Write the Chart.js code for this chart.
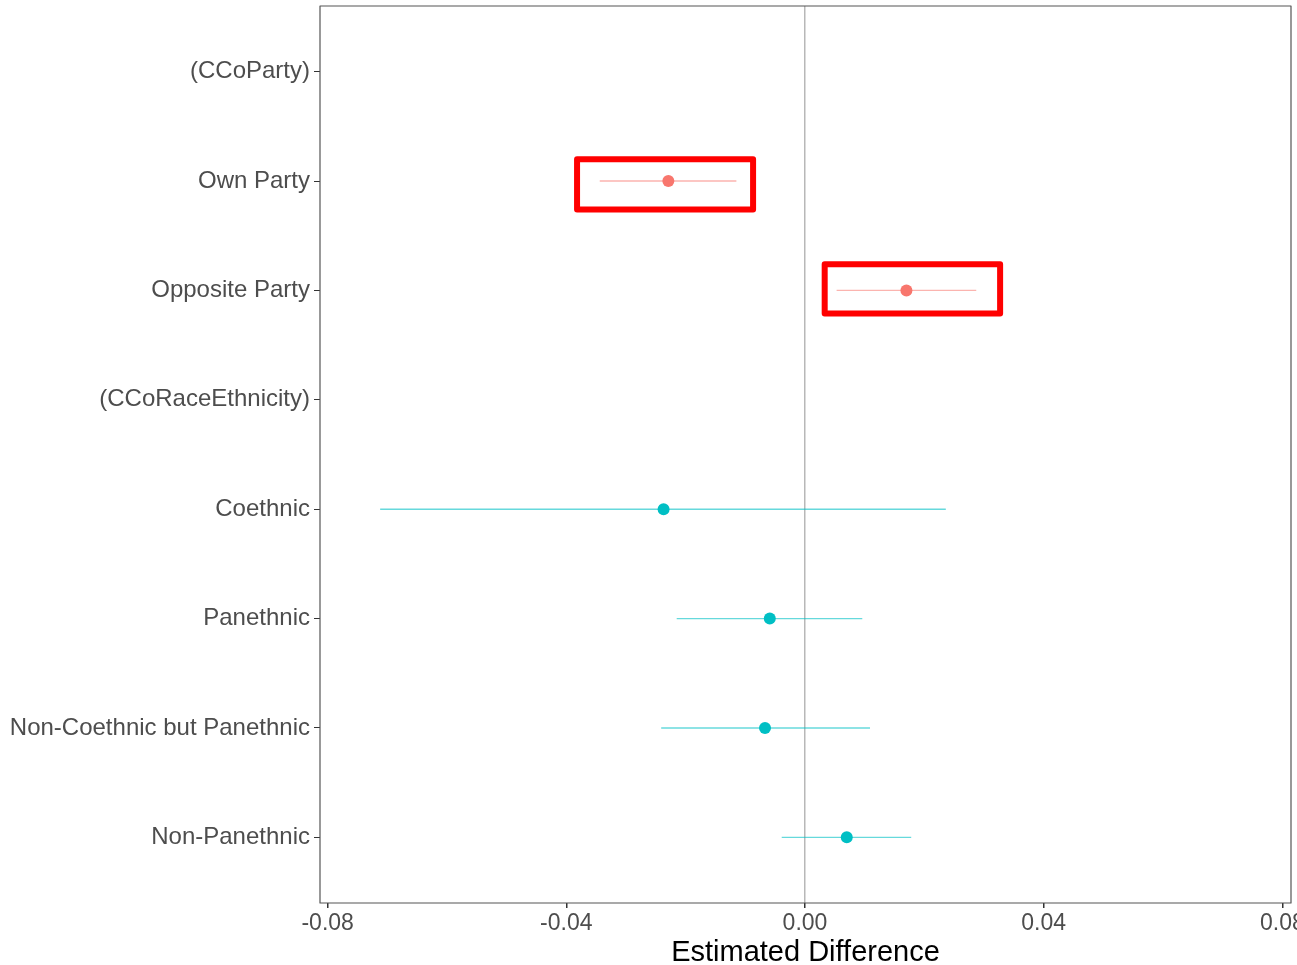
<!DOCTYPE html>
<html>
<head>
<meta charset="utf-8">
<script src="https://cdn.jsdelivr.net/npm/chart.js@4.4.0/dist/chart.umd.min.js"></script>
<style>
  html, body { margin: 0; padding: 0; background: #fff; }
  #wrap { width: 1297px; height: 965px; }
</style>
</head>
<body>
<div id="wrap"><canvas id="myChart" width="1297" height="965"></canvas></div>
<script>
// rows from top to bottom
var categories = ['(CCoParty)', 'Own Party', 'Opposite Party', '(CCoRaceEthnicity)',
  'Coethnic', 'Panethnic', 'Non-Coethnic but Panethnic', 'Non-Panethnic'];
var groups = ['party', 'party', 'party', 'race', 'race', 'race', 'race', 'race'];
var estimates = [null, -0.0229, 0.0170, null, -0.0237, -0.0059, -0.0067, 0.0070];
var lower     = [null, -0.0344, 0.0053, null, -0.0712, -0.0215, -0.0241, -0.0039];
var upper     = [null, -0.0115, 0.0287, null, 0.0236, 0.0096, 0.0109, 0.0178];
var xTicks = [-0.08, -0.04, 0, 0.04, 0.08];

// red highlight boxes (data units)
var boxXLo = [-0.0382, 0.0033];
var boxXHi = [-0.0087, 0.0327];
var boxYLo = [0.80, 1.76];
var boxYHi = [1.26, 2.21];

var pointCol = { party: '#F8766D', race: '#00BFC4' };
var lineCol = { party: 'rgba(248,118,109,0.55)', race: 'rgba(0,191,196,0.6)' };

var fontFam = '"Liberation Sans", Arial, Helvetica, sans-serif';

var datasets = [];
var pts = [], ptCols = [];
for (var i = 0; i < categories.length; i++) {
  if (estimates[i] === null) continue;
  pts.push({ x: estimates[i], y: i });
  ptCols.push(pointCol[groups[i]]);
  datasets.push({
    data: [{ x: lower[i], y: i }, { x: upper[i], y: i }],
    showLine: true,
    borderColor: lineCol[groups[i]],
    borderWidth: 1.4,
    pointRadius: 0,
    order: 2
  });
}
datasets.push({
  data: pts,
  pointRadius: 6,
  pointBackgroundColor: ptCols,
  pointBorderWidth: 0,
  order: 0
});

var extras = {
  id: 'extras',
  afterDatasetsDraw: function(chart) {
    var c = chart.ctx, a = chart.chartArea;
    var xs = chart.scales.x, ys = chart.scales.y;
    c.save();
    // red boxes
    c.strokeStyle = '#FF0000';
    c.lineWidth = 6;
    c.lineJoin = 'round';
    for (var k = 0; k < boxXLo.length; k++) {
      var x1 = xs.getPixelForValue(boxXLo[k]), x2 = xs.getPixelForValue(boxXHi[k]);
      var y1 = ys.getPixelForValue(boxYLo[k]), y2 = ys.getPixelForValue(boxYHi[k]);
      c.strokeRect(x1, y1, x2 - x1, y2 - y1);
    }
    // panel border
    c.strokeStyle = '#555';
    c.lineWidth = 1.2;
    c.strokeRect(a.left, a.top, a.right - a.left, a.bottom - a.top);
    c.restore();
  }
};

var grafica = new Chart(document.getElementById('myChart'), {
  type: 'scatter',
  data: { datasets: datasets },
  options: {
    responsive: false,
    animation: false,
    layout: { padding: { top: 3, right: 6, bottom: 0, left: 0 } },
    plugins: { legend: { display: false }, tooltip: { enabled: false } },
    scales: {
      x: {
        type: 'linear',
        min: -0.08128,
        max: 0.08145,
        afterBuildTicks: function(s) { s.ticks = xTicks.map(function(v) { return { value: v }; }); },
        afterFit: function(s) { s.height = 62; s.paddingLeft = 0; s.paddingRight = 0; },
        border: { display: false },
        grid: {
          color: function(ctx) { return ctx.tick && ctx.tick.value === 0 ? '#b8b8b8' : 'rgba(0,0,0,0)'; },
          lineWidth: 1.5,
          tickColor: '#333',
          tickLength: 5
        },
        ticks: {
          color: '#4d4d4d',
          font: { family: fontFam, size: 23 },
          padding: 2,
          maxRotation: 0,
          callback: function(v) { return v.toFixed(2); }
        },
        title: {
          display: true,
          text: 'Estimated Difference',
          color: '#000',
          font: { family: fontFam, size: 29 },
          padding: { top: 0, bottom: -5 }
        }
      },
      y: {
        type: 'linear',
        reverse: true,
        min: -0.6,
        max: 7.6,
        afterBuildTicks: function(s) { s.ticks = categories.map(function(c, i) { return { value: i }; }); },
        afterFit: function(s) { s.width = 320; s.paddingTop = 0; s.paddingBottom = 0; },
        border: { display: false },
        grid: {
          color: 'rgba(0,0,0,0)',
          tickColor: '#333',
          tickLength: 6
        },
        ticks: {
          color: '#4d4d4d',
          font: { family: fontFam, size: 24 },
          padding: 4,
          callback: function(v) { return categories[v]; }
        }
      }
    }
  },
  plugins: [extras]
});
</script>
</body>
</html>
